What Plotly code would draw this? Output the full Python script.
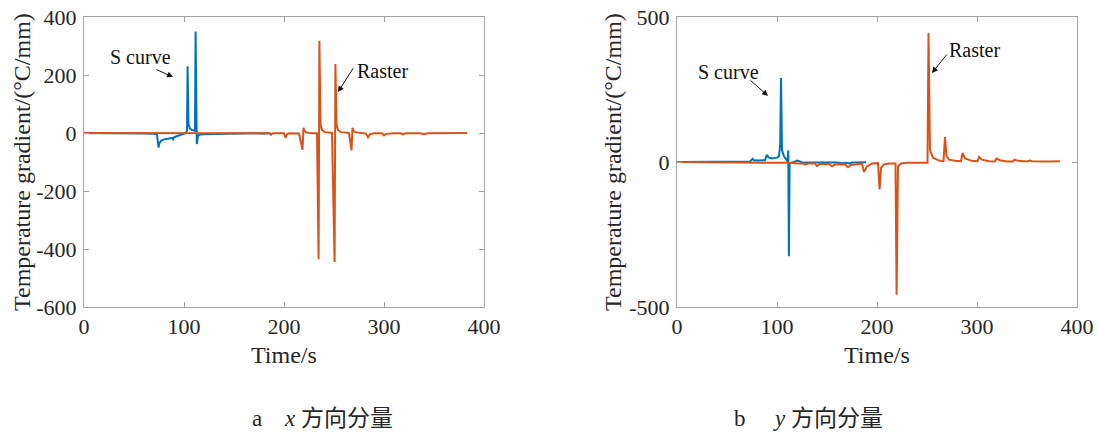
import plotly.graph_objects as go

# ---------- data: temperature gradient components over time ----------
# (a) x-direction component
sx_time = [0, 20, 40, 60, 70, 73, 74.5, 75.5, 77, 80, 84, 88, 89, 90, 92, 96, 100, 102,
           103, 103.6, 104.5, 106, 108, 110, 111, 111.6, 112.2, 112.8, 114, 116, 120,
           130, 140, 150, 160, 170, 180, 186]
sx_grad = [0, 0, -1, -2, -3, -5, -50, -35, -27, -22, -20, -17, -22, -15, -12, -8, -3, 0,
           10, 230, 30, 15, 10, 8, 8, 350, 10, -38, -10, -5, -4,
           -3, -2, -1, -1, -1, -2, -1]

rx_time = [0, 50, 100, 150, 180, 186, 187, 189, 200, 201.5, 203, 205, 215,
           218.5, 219.5, 220.5, 222, 225, 233, 234.6, 235.4, 236.5, 238, 241, 248,
           250.6, 251.4, 252.5, 254, 257, 265, 267.5, 268.5, 269.5, 271, 275,
           282, 284, 286, 290, 298, 300, 302, 310, 317, 319, 322, 335, 340, 345, 360, 383]
rx_grad = [0, 0, 1, 0, 0, -1, -6, -1, -1, -17, -4, -1, -2,
           -58, 18, 8, 2, 0, -1, -435, 318, 30, 10, 3, 0,
           -445, 238, 30, 10, 3, 0, -60, 18, 8, 3, 1,
           -2, -15, -4, -1, -1, -8, -3, -1, -1, -5, -1, -1, -3, -1, 0, 0]

# (b) y-direction component
sy_time = [0, 30, 60, 73, 75.5, 77, 80, 88, 89.8, 91.5, 95, 100, 102, 103.2, 104, 105,
           107, 109, 110.5, 111.3, 111.9, 112.6, 114, 117, 120, 123, 126, 130, 140,
           150, 152, 155, 160, 165, 170, 172, 175, 180, 185, 189]
sy_grad = [0, 0, 0, 2, 11, 6, 5, 6, 25, 16, 12, 15, 20, 60, 290, 40,
           20, 8, 2, 40, -325, -5, -2, 0, 5, 2, -3, -2, -3,
           -2, -4, -2, -2, -4, -3, -5, -2, -2, -1, -1]

ry_time = [0, 50, 100, 110, 120, 126, 128, 131, 138, 140, 143, 152, 155, 158,
           168, 171, 174, 185, 187, 190, 195, 201, 202.6, 204, 207, 212,
           218.5, 219.6, 221, 224, 230, 240, 249, 250.5, 251.5, 253, 256, 262,
           266.5, 268, 269.5, 272, 278, 284, 285.5, 288, 295, 300.5, 302, 305,
           312, 318, 319.5, 323, 330, 336, 337.5, 341, 350, 353, 355, 365, 370,
           372, 383]
ry_grad = [0, -1, -3, -3, -5, -5, -9, -5, -5, -14, -7, -7, -15, -9,
           -8, -18, -10, -5, -35, -15, -5, -4, -95, -20, -8, -5,
           -5, -458, -15, -5, -3, -2, -2, -3, 445, 40, 15, 5,
           3, 86, 20, 8, 4, 3, 31, 12, 4, 3, 17, 8,
           3, 2, 12, 6, 2, 2, 8, 4, 2, 5, 3, 2, 4,
           2, 3]

time_ticks = [0, 100, 200, 300, 400]
x_grad_ticks = [400, 200, 0, -200, -400, -600]
y_grad_ticks = [500, 0, -500]

BLUE = "#0072BD"
ORANGE = "#D95319"
FRAME = "#a3a3a3"
TEXT = "#262626"
SERIF = "Liberation Serif"
CJK = "Liberation Serif, Noto Sans CJK SC"

W, H = 1098, 435
def px(x):
    return x / W
def py(y):
    return 1 - y / H

fig = go.Figure()

line_w = 2
fig.add_trace(go.Scatter(x=sx_time, y=sx_grad, mode="lines", line=dict(color=BLUE, width=line_w),
                         xaxis="x", yaxis="y", showlegend=False))
fig.add_trace(go.Scatter(x=rx_time, y=rx_grad, mode="lines", line=dict(color=ORANGE, width=line_w),
                         xaxis="x", yaxis="y", showlegend=False))
fig.add_trace(go.Scatter(x=sy_time, y=sy_grad, mode="lines", line=dict(color=BLUE, width=line_w),
                         xaxis="x2", yaxis="y2", showlegend=False))
fig.add_trace(go.Scatter(x=ry_time, y=ry_grad, mode="lines", line=dict(color=ORANGE, width=line_w),
                         xaxis="x2", yaxis="y2", showlegend=False))

def xaxis_style(domain, anchor):
    return dict(domain=domain, anchor=anchor, range=[0, 400], tickvals=time_ticks,
                ticktext=[str(v) for v in time_ticks], ticks="inside", ticklen=5,
                tickcolor=FRAME, showline=True, linecolor=FRAME, linewidth=1,
                mirror="ticks", showgrid=False, zeroline=False, automargin=False,
                ticklabelstandoff=0,
                tickfont=dict(family=SERIF, size=22, color=TEXT))

def yaxis_style(domain, anchor, rng, vals):
    return dict(domain=domain, anchor=anchor, range=rng, tickvals=vals,
                ticktext=[str(v) for v in vals], ticks="inside", ticklen=5,
                tickcolor=FRAME, showline=True, linecolor=FRAME, linewidth=1,
                mirror="ticks", showgrid=False, zeroline=False, automargin=False,
                ticklabelstandoff=2,
                tickfont=dict(family=SERIF, size=22, color=TEXT))

ydom = [py(307), py(17)]
fig.update_layout(
    width=W, height=H, margin=dict(l=0, r=0, t=0, b=0),
    paper_bgcolor="white", plot_bgcolor="white",
    font=dict(family=SERIF, color=TEXT),
    xaxis=xaxis_style([px(84), px(484)], "y"),
    yaxis=yaxis_style(ydom, "x", [-600, 400], x_grad_ticks),
    xaxis2=xaxis_style([px(677), px(1077)], "y2"),
    yaxis2=yaxis_style(ydom, "x2", [-500, 500], y_grad_ticks),
)

anns = []
def paper_text(text, x, y, font, xanchor="center", angle=0):
    anns.append(dict(x=px(x), y=py(y), xref="paper", yref="paper", showarrow=False,
                     text=text, textangle=angle, xanchor=xanchor, yanchor="middle",
                     font=font))

# axis titles
title_font = dict(family=SERIF, size=24, color=TEXT)
for cx in (22, 613):
    paper_text("Temperature gradient/(°C/mm)", cx, 162, title_font, angle=-90)
for cx in (284, 877):
    paper_text("Time/s", cx, 355, title_font)

# series labels with arrows
lab_font = dict(family=SERIF, size=20, color="#111111")
def label(text, xr, yr, tx, ty, ax, ay, hx, hy):
    anns.append(dict(x=tx, y=ty, xref=xr, yref=yr, text=text, showarrow=False,
                     xanchor="center", yanchor="middle", font=lab_font))
    anns.append(dict(x=hx, y=hy, ax=ax, ay=ay, xref=xr, yref=yr, axref=xr, ayref=yr,
                     text="", showarrow=True, arrowhead=2, arrowsize=1.2, arrowwidth=1,
                     arrowcolor="#111111"))

label("S curve", "x", "y", 56, 262, 71, 221, 89, 193)
label("Raster", "x", "y", 298, 214, 270, 228, 254, 141)
label("S curve", "x2", "y2", 51, 310, 72, 286, 91, 228)
label("Raster", "x2", "y2", 297, 386, 271, 376, 255, 307)

# panel captions
cap_font = dict(family=CJK, size=23, color=TEXT)
paper_text("a", 257, 418, cap_font)
paper_text("<i>x</i> 方向分量", 282, 418, cap_font, xanchor="left")
paper_text("b", 740, 418, cap_font)
paper_text("<i>y</i> 方向分量", 771, 418, cap_font, xanchor="left")

fig.update_layout(annotations=anns)
fig.write_html("out.html")
